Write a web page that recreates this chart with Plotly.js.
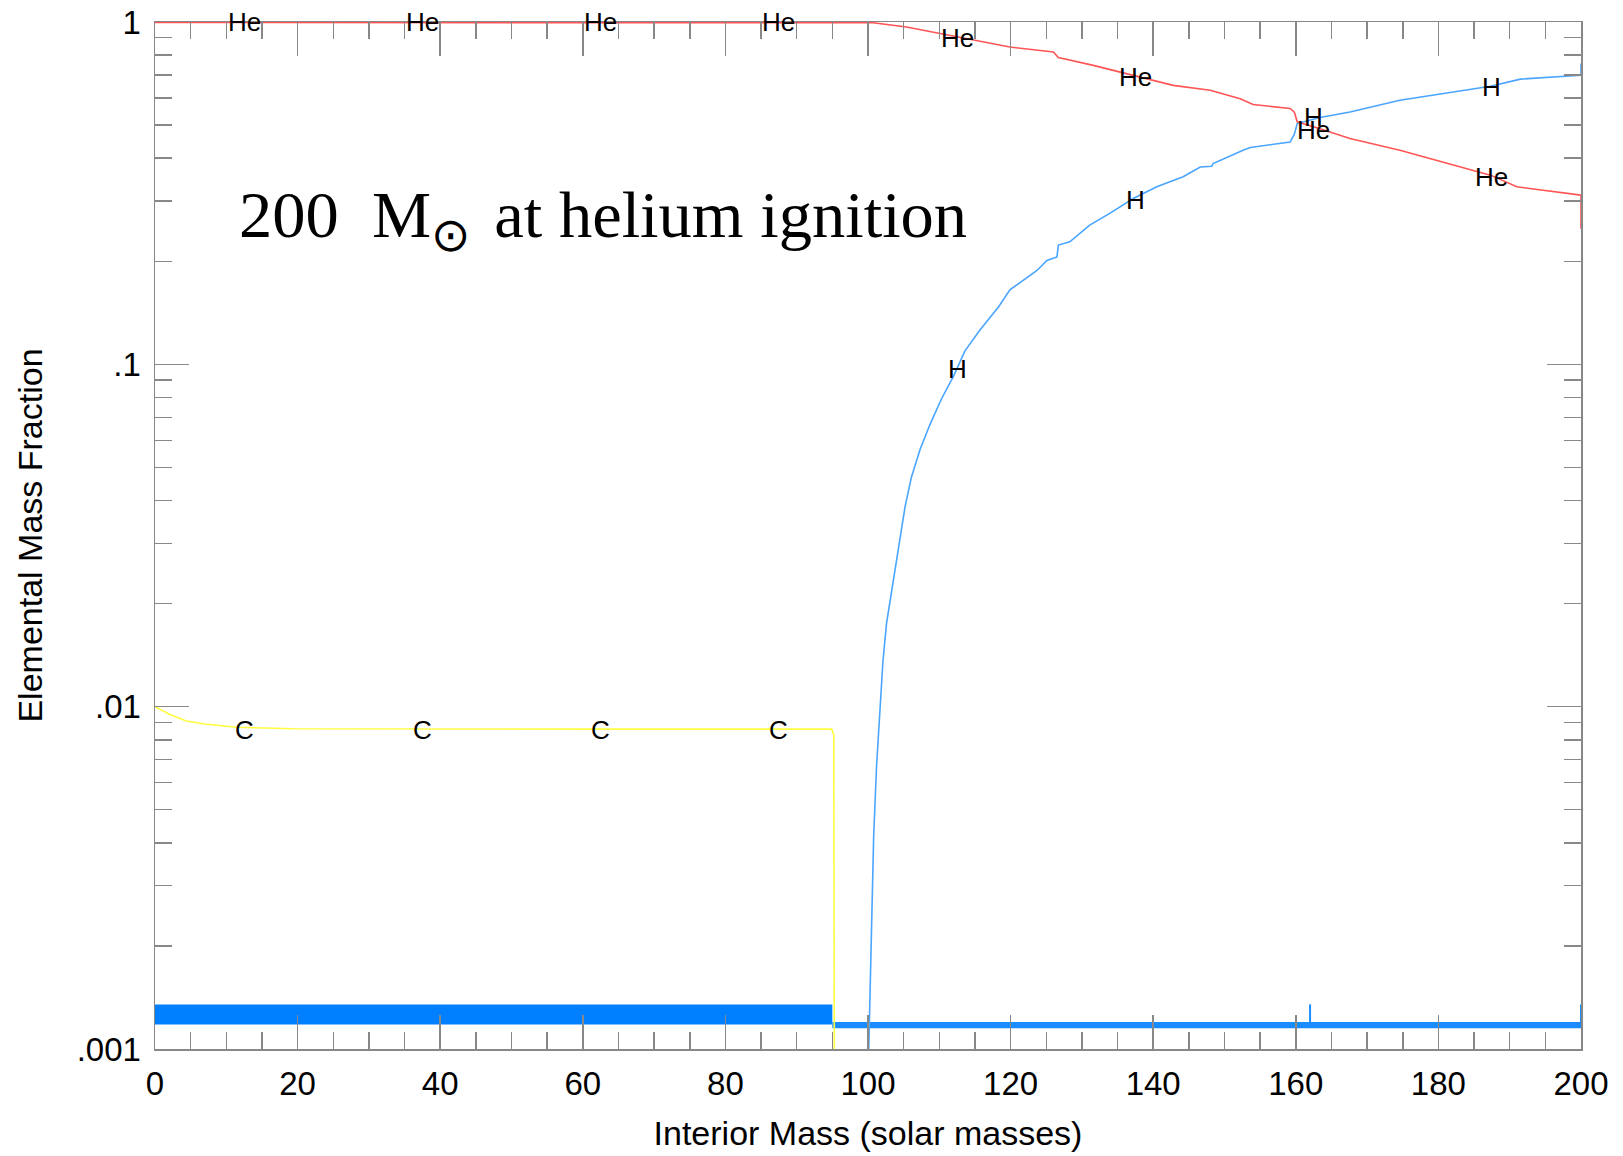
<!DOCTYPE html>
<html><head><meta charset="utf-8">
<script src="https://cdn.plot.ly/plotly-3.0.1.min.js"></script>
<style>html,body{margin:0;padding:0;background:#fff}</style>
</head><body><div id="chart" style="width:1623px;height:1156px"></div>
<script>
// ---- data ----
const heX = [0, 100, 100.7, 105.4, 110.1, 114.8, 119.9, 126.0, 126.7, 131.6, 137.2, 142.8, 148.0, 152.2, 154.0, 159.2, 159.8, 160.2, 163.4, 167.6, 174.6, 187.3, 191.0, 200, 200];
const heY = [0.997, 0.997, 0.995, 0.967, 0.925, 0.884, 0.845, 0.817, 0.787, 0.747, 0.699, 0.653, 0.632, 0.597, 0.574, 0.559, 0.545, 0.511, 0.488, 0.457, 0.422, 0.357, 0.330, 0.312, 0.249];

const hX = [100, 100.5, 100.8, 101.2, 101.65, 102.1, 102.6, 103.3, 103.8, 104.5, 105.2, 106.1, 107.3, 108.7, 110.3, 112.0, 113.6, 115.7, 118.3, 119.9, 121.8, 123.7, 125.1, 126.5, 126.7, 128.3, 131.1, 133.9, 137.2, 140.5, 144.2, 146.6, 148.2, 148.4, 152.6, 153.6, 159.2, 159.8, 160.2, 163.4, 167.6, 174.6, 187.3, 191.5, 200, 200];
const hY = [0.0008, 0.00228, 0.00422, 0.00671, 0.0100, 0.0136, 0.0175, 0.0217, 0.0253, 0.0314, 0.0384, 0.0469, 0.0564, 0.0668, 0.0792, 0.0924, 0.1095, 0.126, 0.147, 0.165, 0.176, 0.188, 0.201, 0.206, 0.223, 0.228, 0.255, 0.276, 0.305, 0.330, 0.353, 0.377, 0.379, 0.386, 0.422, 0.430, 0.446, 0.470, 0.505, 0.526, 0.546, 0.591, 0.649, 0.681, 0.699, 0.756];

const cX = [0, 2, 4.4, 7, 11.4, 15, 19.4, 60, 94.9, 95.2, 95.3];
const cY = [0.0100, 0.0095, 0.00908, 0.0089, 0.00871, 0.00865, 0.00862, 0.00860, 0.00860, 0.0083, 0.0005];

const coreX = [0, 95];
const coreLow = [0.00118, 0.00118];
const coreHigh = [0.00135, 0.00135];

const envX = [95, 200];
const envLow = [0.00115, 0.00115];
const envHigh = [0.00120, 0.00120];

const spikeX = [162, 162, null, 200, 200];
const spikeY = [0.00119, 0.00135, null, 0.00115, 0.00135];

const labelX = [12.5, 37.5, 62.5, 87.5, 112.5, 137.5, 162.5, 187.5];
const heLabelY = [0.997, 0.997, 0.997, 0.997, 0.895, 0.691, 0.483, 0.353];
const hLabelX = [112.5, 137.5, 162.5, 187.5];
const hLabelY = [0.0968, 0.302, 0.528, 0.646];
const cLabelX = [12.5, 37.5, 62.5, 87.5];
const cLabelY = [0.00855, 0.00855, 0.00855, 0.00855];

const xTicks = [0, 20, 40, 60, 80, 100, 120, 140, 160, 180, 200];
const yTickVals = [0.001, 0.01, 0.1, 1];
const yTickText = ['.001', '.01', '.1', '1'];

// ---- build ----
const minorY = [];
[0.001, 0.01, 0.1].forEach(d => { for (let k = 2; k <= 9; k++) minorY.push(d * k); });

const traces = [
  {x: coreX, y: coreLow, mode: 'lines', line: {width: 0, color: '#0080ff'}, hoverinfo: 'skip'},
  {x: coreX, y: coreHigh, mode: 'lines', line: {width: 0, color: '#0080ff'}, fill: 'tonexty', fillcolor: '#0080ff', hoverinfo: 'skip'},
  {x: envX, y: envLow, mode: 'lines', line: {width: 0, color: '#1a8cff'}, hoverinfo: 'skip'},
  {x: envX, y: envHigh, mode: 'lines', line: {width: 0, color: '#1a8cff'}, fill: 'tonexty', fillcolor: '#1a8cff', hoverinfo: 'skip'},
  {x: spikeX, y: spikeY, mode: 'lines', line: {width: 2, color: '#1a8cff'}, connectgaps: false},
  {x: cX, y: cY, mode: 'lines', line: {width: 1.6, color: '#ffff40'}, name: 'C'},
  {x: hX, y: hY, mode: 'lines', line: {width: 1.6, color: '#4aa5ff'}, name: 'H'},
  {x: heX, y: heY, mode: 'lines', line: {width: 1.6, color: '#ff5555'}, name: 'He'}
];

const labFont = {family: 'Liberation Sans, Arial, sans-serif', size: 26, color: '#000'};
const ann = [];
labelX.forEach((x, i) => ann.push({x: x, y: Math.log10(heLabelY[i]), xref: 'x', yref: 'y', text: 'He', showarrow: false, font: labFont}));
hLabelX.forEach((x, i) => ann.push({x: x, y: Math.log10(hLabelY[i]), xref: 'x', yref: 'y', text: 'H', showarrow: false, font: labFont}));
cLabelX.forEach((x, i) => ann.push({x: x, y: Math.log10(cLabelY[i]), xref: 'x', yref: 'y', text: 'C', showarrow: false, font: labFont}));
ann.push({xref: 'paper', yref: 'paper', x: 0.0575, y: 0.808, xanchor: 'left', yanchor: 'middle',
  text: '200\u00a0\u00a0M<sub>\u2299</sub>\u00a0<span style="font-size:30px">\u00a0</span>at helium ignition', showarrow: false,
  font: {family: 'Liberation Serif, Times New Roman, serif', size: 66.5, color: '#000'}});

const axCol = '#888888';
const tickFont = {family: 'Liberation Sans, Arial, sans-serif', size: 33, color: '#000'};
const titleFont = {family: 'Liberation Sans, Arial, sans-serif', size: 34, color: '#000'};
const layout = {
  width: 1623, height: 1156,
  margin: {l: 155, r: 42, t: 22, b: 107, pad: 0},
  paper_bgcolor: '#fff', plot_bgcolor: '#fff',
  showlegend: false,
  xaxis: {
    range: [0, 200], tickvals: xTicks, ticks: 'inside', ticklen: 34, tickwidth: 1.5, tickcolor: axCol,
    showline: true, linecolor: axCol, linewidth: 1.5, mirror: 'ticks', showgrid: false, zeroline: false,
    tickfont: tickFont, ticklabelstandoff: 5,
    minor: {dtick: 5, tick0: 0, ticks: 'inside', ticklen: 17, tickwidth: 1.5, tickcolor: axCol, showgrid: false},
    title: {text: 'Interior Mass (solar masses)', font: titleFont, standoff: 20}
  },
  yaxis: {
    type: 'log', range: [-3, 0], tickvals: yTickVals, ticktext: yTickText, ticks: 'inside', ticklen: 34, tickwidth: 1.5, tickcolor: axCol,
    showline: true, linecolor: axCol, linewidth: 1.5, mirror: 'ticks', showgrid: false, zeroline: false,
    tickfont: tickFont, ticklabelstandoff: 6,
    minor: {tickvals: minorY, ticks: 'inside', ticklen: 17, tickwidth: 1.5, tickcolor: axCol, showgrid: false},
    title: {text: 'Elemental Mass Fraction', font: titleFont, standoff: 24}
  },
  annotations: ann
};

Plotly.newPlot('chart', traces, layout, {staticPlot: true});
</script></body></html>
